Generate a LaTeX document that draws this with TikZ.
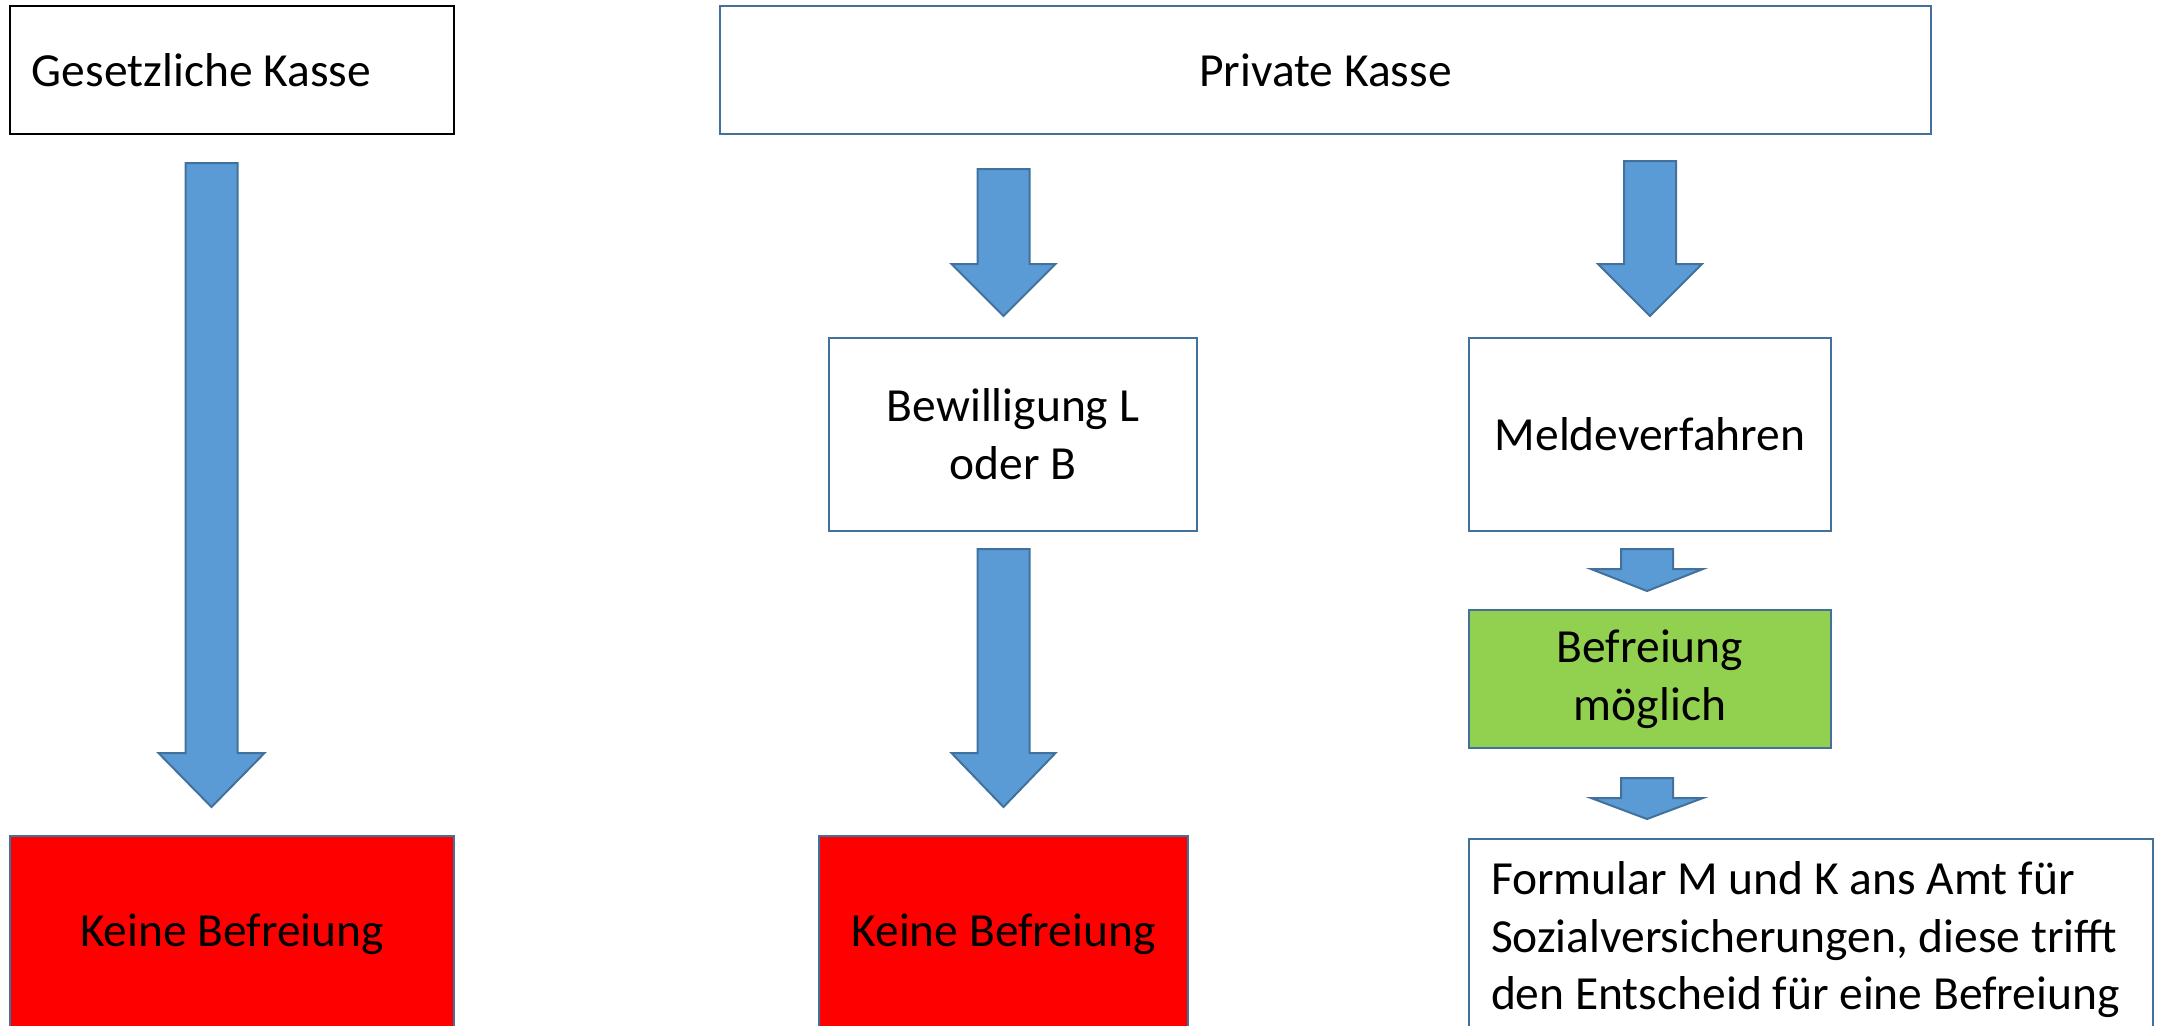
\documentclass[tikz,border=0pt]{standalone}
\usepackage{fontspec}
\setmainfont{Carlito}
\usetikzlibrary{calc}
\definecolor{arrblue}{HTML}{5B9BD5}
\definecolor{lineblue}{HTML}{41719C}
\definecolor{nored}{HTML}{FF0000}
\definecolor{okgreen}{HTML}{92D050}
\tikzset{
  kasten/.style={draw=lineblue,line width=1.2pt,outer sep=0pt,inner sep=0pt,
    align=center,anchor=north west,font=\fontsize{23.75pt}{29pt}\selectfont},
  linksbox/.style={kasten,align=flush left,inner xsep=11pt},
  blockarr/.style={fill=arrblue,draw=lineblue,line width=1pt,line join=miter},
}
% #1 start, #2 tip, #3 half shaft, #4 half head, #5 head length
\newcommand{\blockarrow}[5]{%
  \filldraw[blockarr] let \p1=#1, \p2=#2 in
    (\x1-#3,\y1) -- (\x1+#3,\y1) -- (\x1+#3,\y2+#5) -- (\x1+#4,\y2+#5)
    -- (\x1,\y2) -- (\x1-#4,\y2+#5) -- (\x1-#3,\y2+#5) -- cycle;}
\begin{document}
\begin{tikzpicture}[x=0.5pt,y=-0.5pt]
\fill[white] (0,0) rectangle (2164,1025);
\useasboundingbox (0,0) rectangle (2164,1025);
\node[linksbox,draw=black,text width=200pt,minimum height=64pt,at={(10,6)}] (gesetz) {Gesetzliche Kasse};
\node[kasten,minimum width=605.5pt,minimum height=64pt,at={(720,6)}] (privat) {Private Kasse};
\node[kasten,minimum width=184pt,minimum height=96.5pt,at={(829,338)}] (bewill) {Bewilligung L\\oder B};
\node[kasten,minimum width=181pt,minimum height=96.5pt,at={(1469,338)}] (melde) {Meldeverfahren};
\node[kasten,fill=okgreen,minimum width=181pt,minimum height=69pt,at={(1469,610)}] (moeglich) {Befreiung\\möglich};
\node[kasten,fill=nored,minimum width=222pt,minimum height=98pt,at={(10,836)}] (keine1) {Keine Befreiung};
\node[kasten,fill=nored,minimum width=184.5pt,minimum height=98pt,at={(819,836)}] (keine2) {Keine Befreiung};
\node[linksbox,text width=320pt,inner ysep=11pt,at={(1469,839)}] (formular)
  {Formular M und K ans Amt für\\Sozialversicherungen, diese trifft\\den Entscheid für eine Befreiung};

\blockarrow{($(gesetz.south)+(-20.5,29)$)}{($(keine1.north)+(0,-29)$)}{13pt}{26.5pt}{27pt}
\blockarrow{($(privat.south -| keine2.north)+(0,35)$)}{($(bewill.north)+(0,-22)$)}{13pt}{26pt}{26pt}
\blockarrow{($(privat.south -| melde.north)+(0,27)$)}{($(melde.north)+(0,-22)$)}{13pt}{26pt}{26pt}
\blockarrow{($(bewill.south -| keine2.north)+(0,18)$)}{($(keine2.north)+(0,-29)$)}{13pt}{26pt}{27pt}
\blockarrow{($(melde.south)+(-3,18)$)}{($(moeglich.north)+(0,-19)$)}{13pt}{28pt}{11pt}
\blockarrow{($(moeglich.south)+(-3,30)$)}{($(formular.north)+(0,-20)$)}{13pt}{28pt}{10.5pt}
\end{tikzpicture}
\end{document}
